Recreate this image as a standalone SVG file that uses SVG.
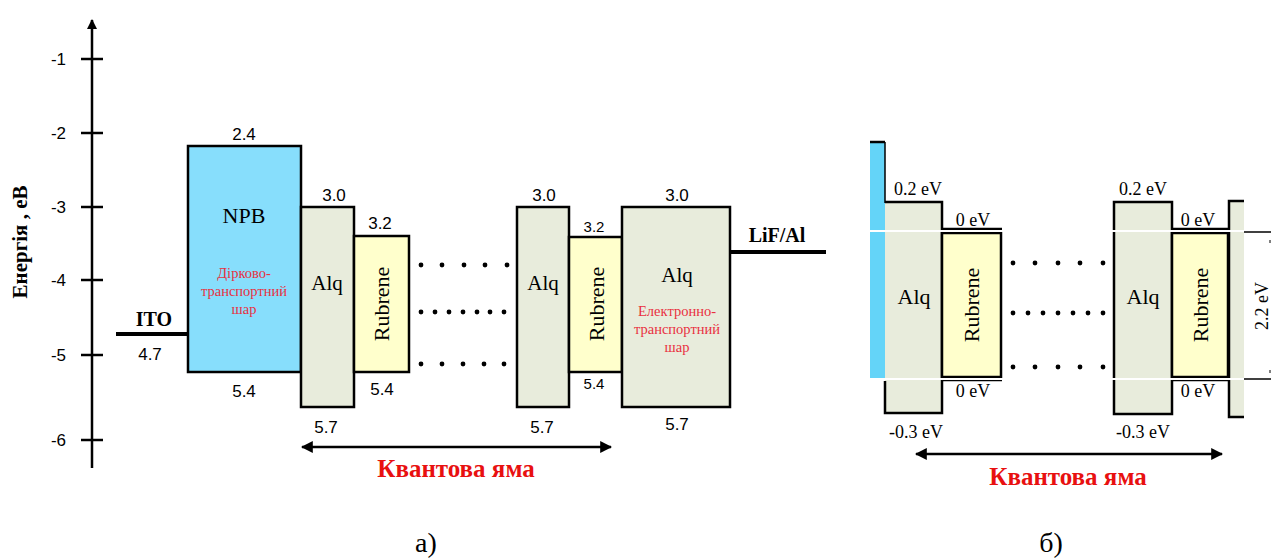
<svg xmlns="http://www.w3.org/2000/svg" width="1271" height="558" viewBox="0 0 1271 558">
<defs>
<style>
.ax{stroke:#000;stroke-width:2.5;fill:none}
.box{stroke:#000;stroke-width:2.5}
.alq{fill:#E8ECDC}
.rub{fill:#FFFFCC}
.npb{fill:#87DEFC}
.sans{font-family:"Liberation Sans",Arial,sans-serif;fill:#000}
.serif{font-family:"Times New Roman","Liberation Serif",Tinos,"Noto Serif","DejaVu Serif",serif;fill:#000}
.red{font-family:"Times New Roman","Liberation Serif",Tinos,"Noto Serif","DejaVu Serif",serif;fill:#E8303F;font-size:14.5px}
.qw{font-family:"Times New Roman","Liberation Serif",Tinos,"Noto Serif","DejaVu Serif",serif;fill:#E81010;font-size:25px;font-weight:bold}
.dot{fill:#000}
.wl{stroke:#fff;stroke-width:2}
</style>
<marker id="ah" viewBox="0 0 10 10" refX="9" refY="5" markerWidth="10" markerHeight="10" markerUnits="userSpaceOnUse" orient="auto-start-reverse">
<path d="M0,0 L10,5 L0,10 z" fill="#000"/>
</marker>
<marker id="ah2" viewBox="0 0 10 10" refX="9" refY="5" markerWidth="12" markerHeight="12" markerUnits="userSpaceOnUse" orient="auto-start-reverse">
<path d="M0,0 L10,5 L0,10 z" fill="#000"/>
</marker>
</defs>
<rect width="1271" height="558" fill="#fff"/>

<!-- Axis -->
<g id="axis">
<line class="ax" x1="92" y1="468" x2="92" y2="20" marker-end="url(#ah)"/>
<g class="ax">
<line x1="81" y1="59" x2="103" y2="59"/>
<line x1="81" y1="133" x2="103" y2="133"/>
<line x1="81" y1="207" x2="103" y2="207"/>
<line x1="81" y1="280" x2="103" y2="280"/>
<line x1="81" y1="355" x2="103" y2="355"/>
<line x1="81" y1="440" x2="103" y2="440"/>
</g>
<g class="sans" font-size="17" text-anchor="end">
<text x="66" y="65">-1</text>
<text x="66" y="139">-2</text>
<text x="66" y="213">-3</text>
<text x="66" y="286">-4</text>
<text x="66" y="361">-5</text>
<text x="66" y="446">-6</text>
</g>
<text class="serif" font-size="21" font-weight="bold" text-anchor="middle" transform="translate(27,242) rotate(-90)">Енергія , еВ</text>
</g>

<!-- ITO -->
<g id="ito">
<line x1="116" y1="334" x2="188" y2="334" stroke="#000" stroke-width="4"/>
<text class="serif" x="154" y="326" font-size="20" font-weight="bold" text-anchor="middle">ITO</text>
<text class="sans" x="150" y="360" font-size="17" text-anchor="middle">4.7</text>
</g>

<!-- NPB -->
<g id="npb">
<rect class="box npb" x="188" y="146" width="113" height="226"/>
<text class="sans" x="244" y="140" font-size="17" text-anchor="middle">2.4</text>
<text class="serif" x="244" y="223" font-size="22" text-anchor="middle">NPB</text>
<text class="red" x="244" y="278" text-anchor="middle">Дірково-</text>
<text class="red" x="244" y="296" text-anchor="middle">транспортний</text>
<text class="red" x="244" y="314" text-anchor="middle">шар</text>
<text class="sans" x="244" y="397" font-size="17" text-anchor="middle">5.4</text>
</g>

<!-- Alq 1 -->
<g id="alq1">
<rect class="box alq" x="301" y="207" width="53" height="200"/>
<text class="sans" x="334" y="201" font-size="17" text-anchor="middle">3.0</text>
<text class="serif" x="327" y="290" font-size="21" text-anchor="middle">Alq</text>
<text class="sans" x="326" y="433" font-size="17" text-anchor="middle">5.7</text>
</g>

<!-- Rubrene 1 -->
<g id="rub1">
<rect class="box rub" x="354" y="236" width="55" height="136"/>
<text class="sans" x="380" y="229" font-size="17" text-anchor="middle">3.2</text>
<text class="serif" font-size="22" text-anchor="middle" transform="translate(389,304) rotate(-90)">Rubrene</text>
<text class="sans" x="382" y="395" font-size="17" text-anchor="middle">5.4</text>
</g>

<!-- dots left -->
<g id="dots-left" class="dot">
<circle cx="421" cy="265" r="2.4"/><circle cx="442" cy="265" r="2.4"/><circle cx="464" cy="265" r="2.4"/><circle cx="485" cy="265" r="2.4"/><circle cx="507" cy="265" r="2.4"/>
<circle cx="421" cy="312" r="2.4"/><circle cx="435" cy="312" r="2.4"/><circle cx="449" cy="312" r="2.4"/><circle cx="463" cy="312" r="2.4"/><circle cx="477" cy="312" r="2.4"/><circle cx="490" cy="312" r="2.4"/><circle cx="504" cy="312" r="2.4"/>
<circle cx="421" cy="364" r="2.4"/><circle cx="442" cy="364" r="2.4"/><circle cx="463" cy="364" r="2.4"/><circle cx="484" cy="364" r="2.4"/><circle cx="504" cy="364" r="2.4"/>
</g>

<!-- Alq 2 -->
<g id="alq2">
<rect class="box alq" x="517" y="207" width="52" height="200"/>
<text class="sans" x="544" y="201" font-size="17" text-anchor="middle">3.0</text>
<text class="serif" x="543" y="290" font-size="21" text-anchor="middle">Alq</text>
<text class="sans" x="542" y="433" font-size="17" text-anchor="middle">5.7</text>
</g>

<!-- Rubrene 2 -->
<g id="rub2">
<rect class="box rub" x="569" y="237" width="53" height="135"/>
<text class="sans" x="594" y="232" font-size="15" text-anchor="middle">3.2</text>
<text class="serif" font-size="22" text-anchor="middle" transform="translate(604,304) rotate(-90)">Rubrene</text>
<text class="sans" x="594" y="389" font-size="15" text-anchor="middle">5.4</text>
</g>

<!-- Alq 3 ETL -->
<g id="alq3">
<rect class="box alq" x="622" y="207" width="108" height="200"/>
<text class="sans" x="677" y="201" font-size="17" text-anchor="middle">3.0</text>
<text class="serif" x="677" y="282" font-size="21" text-anchor="middle">Alq</text>
<text class="red" x="677" y="316" text-anchor="middle">Електронно-</text>
<text class="red" x="677" y="334" text-anchor="middle">транспортний</text>
<text class="red" x="677" y="352" text-anchor="middle">шар</text>
<text class="sans" x="677" y="430" font-size="17" text-anchor="middle">5.7</text>
</g>

<!-- LiF/Al -->
<g id="lif">
<line x1="730" y1="252" x2="826" y2="252" stroke="#000" stroke-width="4"/>
<text class="serif" x="777" y="242" font-size="20" font-weight="bold" text-anchor="middle">LiF/Al</text>
</g>

<!-- Right panel -->
<g id="blue-bar">
<rect x="870" y="142" width="15" height="237" fill="#64D4F8"/>
<line x1="870" y1="142" x2="885" y2="142" stroke="#000" stroke-width="2.5"/>
<line x1="885" y1="142" x2="885" y2="203" stroke="#000" stroke-width="1.5"/>
</g>

<g id="r-alq1">
<rect class="alq" x="885" y="202" width="57" height="212"/>
<path class="ax" d="M885,381 V413 H942 V202 H885"/>
<text class="serif" x="918" y="195" font-size="18" text-anchor="middle">0.2 eV</text>
<text class="serif" x="914" y="304" font-size="22" text-anchor="middle">Alq</text>
<text class="serif" x="916" y="438" font-size="18" text-anchor="middle">-0.3 eV</text>
</g>

<g id="r-rub1">
<line class="ax" x1="942" y1="229" x2="1002" y2="229"/>
<rect class="box rub" x="942" y="233" width="59" height="144"/>
<line class="ax" x1="942" y1="380" x2="1002" y2="380" stroke-width="1.2"/>
<text class="serif" x="973" y="226" font-size="18" text-anchor="middle">0 eV</text>
<text class="serif" font-size="22" text-anchor="middle" transform="translate(979,305) rotate(-90)">Rubrene</text>
<text class="serif" x="973" y="397" font-size="18" text-anchor="middle">0 eV</text>
</g>

<g id="dots-right" class="dot">
<circle cx="1013" cy="263" r="2.4"/><circle cx="1035" cy="263" r="2.4"/><circle cx="1058" cy="263" r="2.4"/><circle cx="1080" cy="263" r="2.4"/><circle cx="1103" cy="263" r="2.4"/>
<circle cx="1013" cy="313" r="2.4"/><circle cx="1028" cy="313" r="2.4"/><circle cx="1043" cy="313" r="2.4"/><circle cx="1058" cy="313" r="2.4"/><circle cx="1073" cy="313" r="2.4"/><circle cx="1088" cy="313" r="2.4"/><circle cx="1103" cy="313" r="2.4"/>
<circle cx="1013" cy="367" r="2.4"/><circle cx="1035" cy="367" r="2.4"/><circle cx="1058" cy="367" r="2.4"/><circle cx="1080" cy="367" r="2.4"/><circle cx="1103" cy="367" r="2.4"/>
</g>

<g id="r-alq2">
<rect class="box alq" x="1114" y="202" width="58" height="212"/>
<text class="serif" x="1143" y="195" font-size="18" text-anchor="middle">0.2 eV</text>
<text class="serif" x="1143" y="304" font-size="22" text-anchor="middle">Alq</text>
<text class="serif" x="1143" y="438" font-size="18" text-anchor="middle">-0.3 eV</text>
</g>

<g id="r-rub2">
<line class="ax" x1="1172" y1="229" x2="1229" y2="229"/>
<rect class="box rub" x="1172" y="233" width="56" height="144"/>
<line class="ax" x1="1172" y1="380" x2="1229" y2="380" stroke-width="1.2"/>
<text class="serif" x="1198" y="226" font-size="18" text-anchor="middle">0 eV</text>
<text class="serif" font-size="22" text-anchor="middle" transform="translate(1208,305) rotate(-90)">Rubrene</text>
<text class="serif" x="1198" y="397" font-size="18" text-anchor="middle">0 eV</text>
</g>

<g id="r-alq3">
<rect class="alq" x="1228" y="201" width="16" height="216"/>
<path class="ax" d="M1244,201 H1229 V417 H1244"/>
</g>

<g id="gap-dim">
<line x1="1244" y1="232" x2="1271" y2="232" stroke="#000" stroke-width="1.5"/>
<line x1="1244" y1="379" x2="1271" y2="379" stroke="#000" stroke-width="1.5"/>
<line x1="1270" y1="240" x2="1270" y2="243" stroke="#000" stroke-width="1"/>
<line x1="1270" y1="370" x2="1270" y2="373" stroke="#000" stroke-width="1"/>
<text class="serif" font-size="18" text-anchor="middle" transform="translate(1268,306) rotate(-90)">2.2 eV</text>
</g>

<!-- white cut lines -->
<g id="cuts">
<line class="wl" x1="850" y1="231" x2="1244" y2="231"/>
<line class="wl" x1="850" y1="379" x2="1244" y2="379"/>
</g>

<!-- connectors -->
<g id="connectors">
<line x1="302" y1="447" x2="611" y2="447" stroke="#000" stroke-width="2.5" marker-start="url(#ah2)" marker-end="url(#ah2)"/>
<line x1="916" y1="454" x2="1222" y2="454" stroke="#000" stroke-width="2.5" marker-start="url(#ah2)" marker-end="url(#ah2)"/>
</g>

<g id="labels">
<text class="qw" x="456" y="477" text-anchor="middle">Квантова яма</text>
<text class="qw" x="1068" y="485" text-anchor="middle">Квантова яма</text>
<text class="serif" x="426" y="552" font-size="28" text-anchor="middle">а)</text>
<text class="serif" x="1051" y="552" font-size="28" text-anchor="middle">б)</text>
</g>
</svg>
